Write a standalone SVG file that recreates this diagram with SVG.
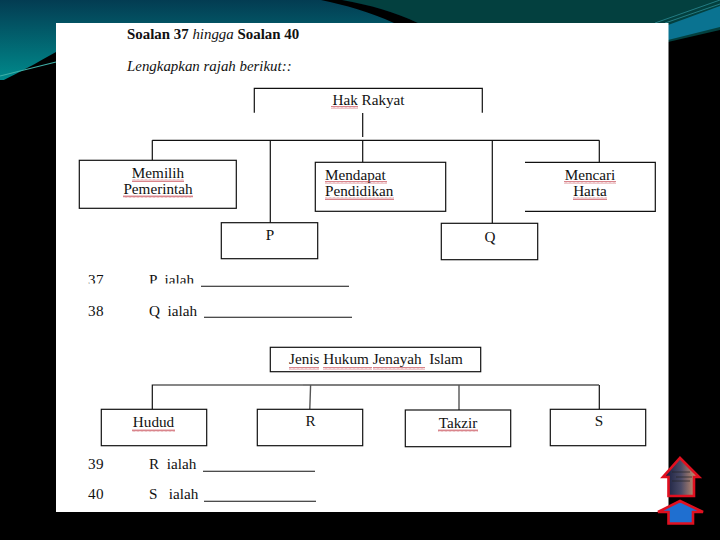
<svg xmlns="http://www.w3.org/2000/svg" width="720" height="540" viewBox="0 0 720 540">
<style>
text{font-family:"Liberation Serif","Times New Roman",serif;font-size:15.2px;fill:#111;white-space:pre}
.m{text-anchor:middle}
.b{font-weight:bold;font-size:14.900px}
.i{font-style:italic;font-size:14.900px}
.box{fill:#fff;stroke:#111;stroke-width:1.2}
.open{fill:none;stroke:#111;stroke-width:1.2}
.con{fill:none;stroke:#111;stroke-width:1.2}
.gray{fill:none;stroke:#555;stroke-width:1.4}
.ans{stroke:#111;stroke-width:1.1;fill:none}
</style>
<defs>
<linearGradient id="sky" x1="0" y1="0" x2="0" y2="1"><stop offset="0" stop-color="#033c52"/><stop offset="1" stop-color="#008a8c"/></linearGradient>
<linearGradient id="door" x1="0" y1="0" x2="1" y2="0"><stop offset="0" stop-color="#10183a"/><stop offset="0.5" stop-color="#4a4a66"/><stop offset="1" stop-color="#e8a070"/></linearGradient>
<pattern id="w" width="4" height="3" patternUnits="userSpaceOnUse"><path d="M0 2.500L1 0.500L2 2.500L3 0.500L4 2.500" fill="none" stroke="#c8505a" stroke-width="0.7"/></pattern>
<clipPath id="cut"><rect x="80" y="265" width="200" height="18.5"/></clipPath>
</defs>

<rect width="720" height="540" fill="#000"/>
<rect width="430" height="80" fill="url(#sky)"/>
<path d="M0 82C20 72 35 64 56 52L120 40V90H0Z" fill="#000"/>
<path d="M0 76L56 62" stroke="#3fb0a8" stroke-width="1.2"/>
<path d="M342 0H720V30L668 42V23H418C395 12 370 5 342 0Z" fill="#03403f"/>
<path d="M321 0H342C370 5 395 12 418 23H394C370 12 345 5 321 0Z" fill="#000"/>
<path d="M668 25L720 6V27L668 40Z" fill="#0a7391"/>
<path d="M655 23L720 0M665 23L720 4" stroke="#2c8a94" stroke-width="0.8" fill="none"/>
<rect x="56" y="23" width="612.500" height="489" fill="#fff"/>

<text class="b" x="127" y="39">Soalan 37 <tspan font-style="italic" font-weight="normal">hingga</tspan> Soalan 40</text>
<text class="i" x="127" y="71">Lengkapkan rajah berikut::</text>

<g id="connectors">
<path class="con" d="M362.700 113V137M362.700 140V162M152.300 140.300H599.300M152.300 140.300V160M270.300 140.300V223M492.300 140.300V223M599.300 140.300V162"/>
<path class="con" d="M152.300 409V385H303M599.300 385V409"/>
<path class="gray" d="M303 385H599M310.600 385L309.800 409M459 385V410"/>
</g>

<g id="hak-rakyat">
<path class="open" d="M254.300 112.700V88.300H482.300V112.700"/>
<text class="m" x="368.500" y="105">Hak Rakyat</text>
<rect x="331" y="106" width="27" height="3" fill="url(#w)"/>
</g>
<g id="memilih">
<rect class="box" x="79.300" y="160.300" width="157" height="48"/>
<text class="m" x="158" y="178">Memilih</text>
<text class="m" x="158" y="193.500">Pemerintah</text>
<rect x="132" y="179" width="52" height="3" fill="url(#w)"/>
<rect x="123" y="195" width="70" height="3" fill="url(#w)"/>
</g>
<g id="mendapat">
<rect class="box" x="315.300" y="162.300" width="130.400" height="49"/>
<text x="325" y="180">Mendapat</text>
<text x="325" y="196">Pendidikan</text>
<rect x="325" y="181" width="62" height="3" fill="url(#w)"/>
<rect x="325" y="197" width="69" height="3" fill="url(#w)"/>
</g>
<g id="mencari">
<path class="open" d="M525 162.300H655.300V211.300H525"/>
<text class="m" x="590" y="180">Mencari</text>
<text class="m" x="590" y="196">Harta</text>
<rect x="564" y="181" width="52" height="3" fill="url(#w)"/>
<rect x="573" y="197" width="34" height="3" fill="url(#w)"/>
</g>
<g id="p">
<rect class="box" x="221.300" y="222.700" width="96.400" height="36"/>
<text class="m" x="270" y="240">P</text>
</g>
<g id="q">
<rect class="box" x="441.300" y="223.300" width="96.400" height="36.400"/>
<text class="m" x="490" y="242">Q</text>
</g>

<g clip-path="url(#cut)">
<text x="88" y="285" letter-spacing="0.500">37</text>
<text x="149" y="285">P  ialah</text>
</g>
<path class="ans" d="M201 286.300H349"/>
<text x="88" y="316" letter-spacing="0.500">38</text>
<text x="149" y="316">Q  ialah</text>
<path class="ans" d="M204 317.300H352"/>

<g id="jenis">
<rect class="box" x="270.300" y="347.300" width="210.400" height="24.400"/>
<text class="m" x="376" y="364">Jenis Hukum Jenayah  Islam</text>
<rect x="289" y="367" width="30" height="3" fill="url(#w)"/>
<rect x="323" y="367" width="49" height="3" fill="url(#w)"/>
<rect x="373" y="367" width="52" height="3" fill="url(#w)"/>
</g>
<g id="hudud">
<rect class="box" x="101.300" y="409.300" width="105.400" height="36.400"/>
<text class="m" x="153.500" y="427">Hudud</text>
<rect x="132" y="429" width="43" height="3" fill="url(#w)"/>
</g>
<g id="r">
<rect class="box" x="257.300" y="409.300" width="105.400" height="36.400"/>
<text class="m" x="310.500" y="426">R</text>
</g>
<g id="takzir">
<rect class="box" x="405.300" y="410" width="105.400" height="36.700"/>
<text class="m" x="458" y="427.500">Takzir</text>
<rect x="438" y="429" width="40" height="3" fill="url(#w)"/>
</g>
<g id="s">
<rect class="box" x="550.300" y="409.300" width="95.400" height="36.400"/>
<text class="m" x="599" y="426">S</text>
</g>

<text x="88" y="469" letter-spacing="0.500">39</text>
<text x="149" y="469">R  ialah</text>
<path class="ans" d="M203 471.300H315"/>
<text x="88" y="499" letter-spacing="0.500">40</text>
<text x="149" y="499">S   ialah</text>
<path class="ans" d="M204 501.300H316"/>

<g id="nav-up">
<path d="M680 458L699 477H694V496H668.500V477H663Z" fill="url(#door)" stroke="#e01020" stroke-width="2.600"/>
<path d="M672 472H690M676 477H692M672 481H690" stroke="#222" stroke-width="0.700" fill="none"/>
</g>
<g id="nav-home">
<path d="M680 501L703 512H693V523.500H668.500V512H658Z" fill="#1f6fd0" stroke="#e01020" stroke-width="2.600"/>
</g>
</svg>
